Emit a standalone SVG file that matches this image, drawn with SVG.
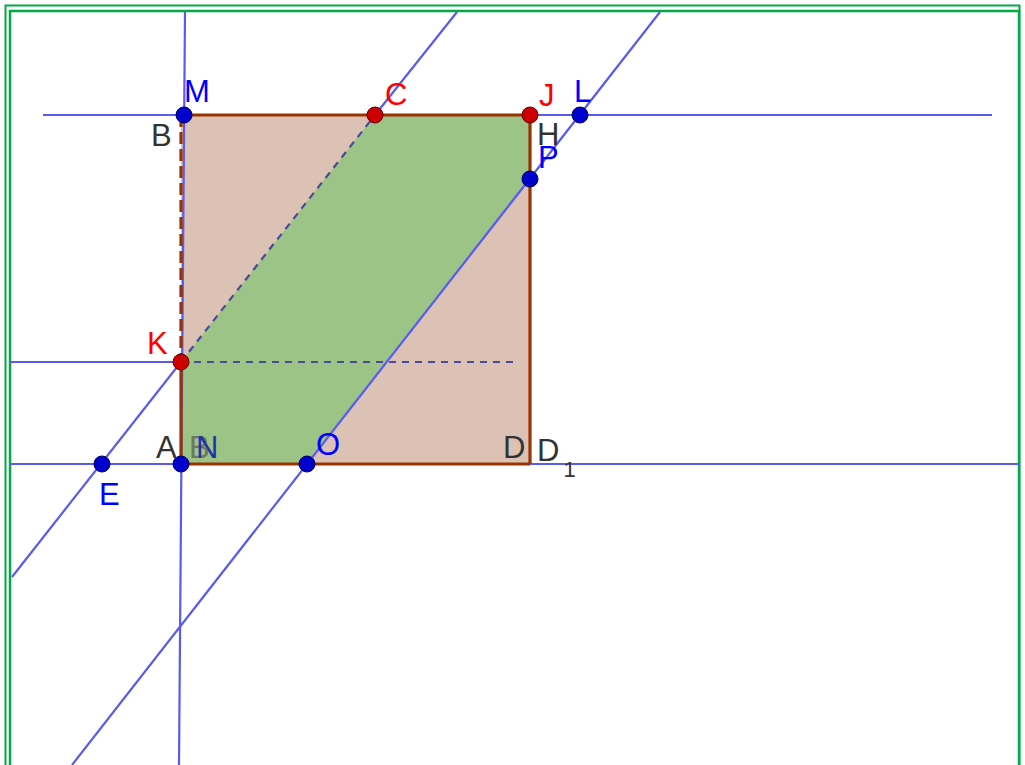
<svg xmlns="http://www.w3.org/2000/svg" width="1025" height="765" viewBox="0 0 1025 765">
<style>
.ln{stroke:#5a5aee;stroke-width:2.2;fill:none}
.dl{stroke:#4a4a99;stroke-width:2.2;stroke-dasharray:7 6;fill:none}
.edge{stroke:#993300;stroke-width:3.2;fill:none}
.pb{fill:#0000cc;stroke:#000066;stroke-width:1}
.pr{fill:#cc0000;stroke:#660000;stroke-width:1}
text{font-family:"Liberation Sans",Arial,sans-serif;font-size:31px}
.tb{fill:#0000ff}
.tr{fill:#ff0000}
.tk{fill:#333333}
</style>
<rect x="0" y="0" width="1025" height="765" fill="#ffffff"/>
<rect x="5.5" y="5.5" width="1014" height="800" fill="none" stroke="#00aa44" stroke-width="2"/>
<rect x="10" y="11" width="1009" height="800" fill="none" stroke="#00aa44" stroke-width="2.5"/>
<g id="shapes">
<polygon points="181,115 530,115 530,464 181,464" fill="#dcc2b4"/>
<polygon points="181,362 375,115 530,115 530,179 307,464 181,464" fill="#9dc487"/>
</g>
<g id="connectors">
<line class="ln" x1="43" y1="115" x2="992" y2="115"/>
<line class="ln" x1="10" y1="464" x2="1019" y2="464"/>
<line class="ln" x1="185" y1="11" x2="179" y2="765"/>
<line class="ln" x1="10" y1="362" x2="181" y2="362"/>
<line class="dl" x1="181" y1="362" x2="516" y2="362"/>
<line class="ln" x1="12" y1="577" x2="181" y2="362"/>
<line class="dl" x1="181" y1="362" x2="375" y2="115"/>
<line class="ln" x1="375" y1="115" x2="457" y2="12"/>
<line class="ln" x1="72" y1="765" x2="660" y2="12"/>
<line class="edge" x1="181" y1="115" x2="530" y2="115"/>
<line class="edge" x1="530" y1="115" x2="530" y2="464"/>
<line class="edge" x1="181" y1="464" x2="530" y2="464"/>
<line class="edge" x1="181" y1="362" x2="181" y2="464"/>
<line class="edge" x1="181" y1="115" x2="181" y2="362" stroke-dasharray="12 5"/>
</g>
<g id="node-M"><circle class="pb" cx="184" cy="115" r="8"/><text class="tb" x="184" y="102">M</text></g>
<g id="node-B"><text class="tk" x="151" y="146">B</text></g>
<g id="node-C"><circle class="pr" cx="375" cy="115" r="8"/><text class="tr" x="385" y="105">C</text></g>
<g id="node-J"><circle class="pr" cx="530" cy="115" r="8"/><text class="tr" x="539" y="106">J</text></g>
<g id="node-L"><circle class="pb" cx="580" cy="115" r="8"/><text class="tb" x="574" y="102">L</text></g>
<g id="node-H"><text class="tk" x="537" y="145">H</text></g>
<g id="node-P"><circle class="pb" cx="530" cy="179" r="8"/><text class="tb" x="538" y="168">P</text></g>
<g id="node-K"><circle class="pr" cx="181" cy="362" r="8"/><text class="tr" x="147" y="354">K</text></g>
<g id="node-A"><circle class="pb" cx="181" cy="464" r="8"/><text class="tk" x="156" y="458">A</text></g>
<g id="node-B2"><text x="189" y="458" fill="#6a7a5a">B</text></g>
<g id="node-N"><text x="196" y="458" fill="#2233aa">N</text></g>
<g id="node-E"><circle class="pb" cx="102" cy="464" r="8"/><text class="tb" x="99" y="505">E</text></g>
<g id="node-O"><circle class="pb" cx="307" cy="464" r="8"/><text class="tb" x="316" y="455">O</text></g>
<g id="node-D"><text class="tk" x="503" y="458">D</text></g>
<g id="node-D1"><text class="tk" x="537" y="461">D<tspan font-size="22" dx="4" dy="16">1</tspan></text></g>
</svg>
